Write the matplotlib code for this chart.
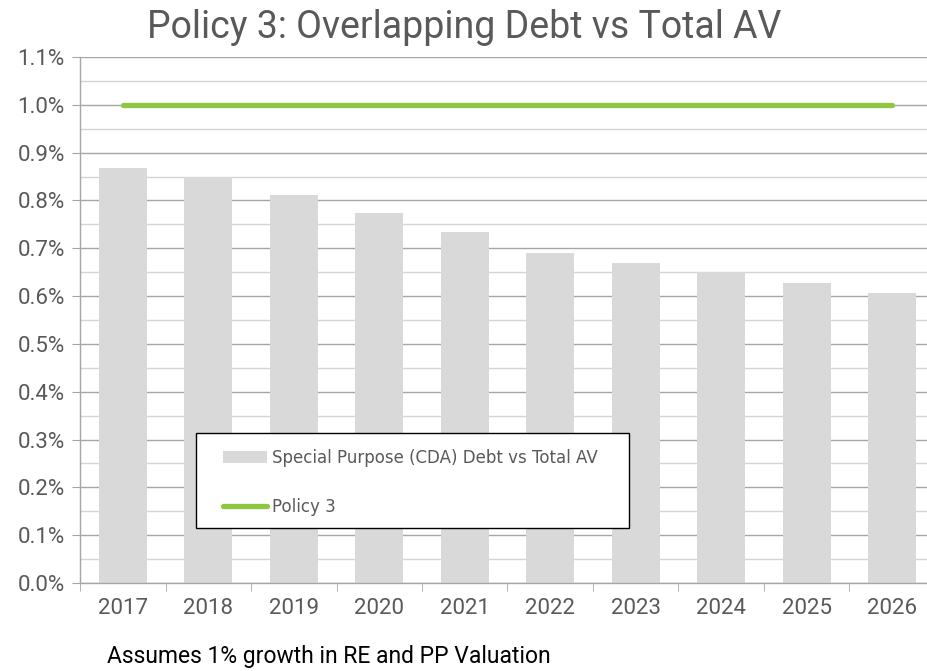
import matplotlib
matplotlib.use("Agg")
import matplotlib.pyplot as plt
from matplotlib.patches import Rectangle
from matplotlib.ticker import MultipleLocator, FuncFormatter

years = ["2017", "2018", "2019", "2020", "2021", "2022", "2023", "2024", "2025", "2026"]
cda_ratio = [0.00868, 0.00849, 0.00812, 0.00774, 0.00734, 0.00690, 0.00669, 0.00651, 0.00628, 0.00607]
policy_limit = [0.010] * len(years)

GREY = "#595959"
BAR = "#d9d9d9"
GREEN = "#8dc63f"
GOTHIC = ["Roboto", "DejaVu Sans"]

fig = plt.figure(figsize=(9.28, 6.71), dpi=100)
ax = fig.add_axes([80 / 928, 88 / 671, 855 / 928, 526 / 671])

x = range(len(years))
ax.bar(x, cda_ratio, width=0.56, color=BAR, zorder=2,
       label="Special Purpose (CDA) Debt vs Total AV")
ax.plot(x, policy_limit, color=GREEN, lw=3.8, solid_capstyle="round", zorder=3,
        label="Policy 3")

ax.set_xlim(-0.5, len(years) - 0.5)
ax.set_ylim(0, 0.011)
ax.yaxis.set_major_locator(MultipleLocator(0.001))
ax.yaxis.set_minor_locator(MultipleLocator(0.0005))
ax.yaxis.set_major_formatter(FuncFormatter(lambda v, p: f"{v * 100:.1f}%"))
ax.grid(axis="y", which="major", color="#a6a6a6", lw=1.0, zorder=0)
ax.grid(axis="y", which="minor", color="#d4d4d4", lw=1.0, zorder=0)

ax.set_xticks(x)
ax.set_xticklabels(years)
ax.set_xticks([i - 0.5 for i in range(len(years) + 1)], minor=True)
ax.tick_params(axis="x", which="major", length=0, pad=11, labelsize=16, labelcolor=GREY)
ax.tick_params(axis="x", which="minor", length=6, color="#a6a6a6", direction="out")
ax.tick_params(axis="y", which="major", length=6, color="#a6a6a6", pad=5,
               labelsize=16, labelcolor=GREY)
ax.tick_params(axis="y", which="minor", length=0)
for lbl in ax.get_xticklabels() + ax.get_yticklabels():
    lbl.set_family(GOTHIC)

for side in ("top", "right"):
    ax.spines[side].set_visible(False)
for side in ("left", "bottom"):
    ax.spines[side].set_color("#a6a6a6")
    ax.spines[side].set_linewidth(1.0)

# legend: white box with black border, entries placed inside without a frame
ax.add_patch(Rectangle(((196 - 80) / 855, 55 / 526), 433 / 855, 95 / 526,
                       transform=ax.transAxes, facecolor="white", edgecolor="black",
                       lw=1.0, zorder=5))
handles, labels = ax.get_legend_handles_labels()
leg = ax.legend(handles[::-1], labels[::-1], loc="upper left",
                bbox_to_anchor=((223 - 80) / 855, (671 - 449 - 88) / 526),
                frameon=False, fontsize=12, labelcolor=GREY, handlelength=2.64,
                handletextpad=0.3, labelspacing=1.88, borderpad=0, borderaxespad=0)
leg.set_zorder(6)

fig.text(0.5, 1 - 27 / 671, "Policy 3: Overlapping Debt vs Total AV", ha="center",
         va="center", fontsize=27, color=GREY, family=GOTHIC)
fig.text(107 / 928, 1 - 657 / 671, "Assumes 1% growth in RE and PP Valuation",
         ha="left", va="center", fontsize=16.5, color="black", family=GOTHIC)

fig.savefig("out.png", dpi=100, facecolor="white")
